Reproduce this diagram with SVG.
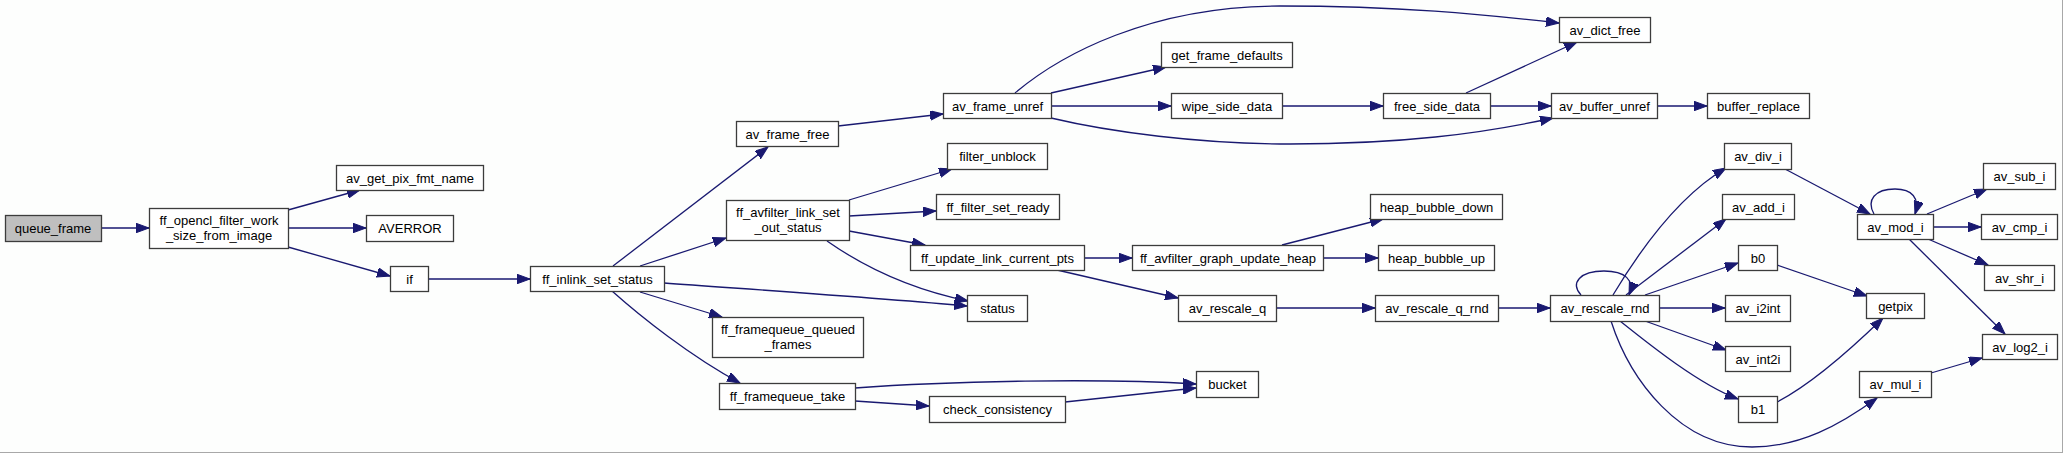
<svg xmlns="http://www.w3.org/2000/svg" width="2063" height="453" viewBox="0 0 2063 453">
<style>
.n rect{fill:#ffffff;stroke:#3c3c3c;stroke-width:1.3}
.n text{font-family:"Liberation Sans",Arial,sans-serif;font-size:13px;fill:#000;text-anchor:middle}
.r rect{fill:#bfbfbf}
#edges path{fill:none;stroke:#191970;stroke-width:1.3;marker-end:url(#ah)}
</style>
<defs>
<marker id="ah" markerUnits="userSpaceOnUse" markerWidth="14" markerHeight="10" refX="13" refY="4.75" orient="auto" viewBox="0 0 14 10">
<path d="M0,0 L13,4.75 L0,9.5 Z" fill="#191970" stroke="#191970" stroke-width="1"/>
</marker>
</defs>
<rect x="0" y="0" width="2063" height="453" fill="#fdfefd"/>
<line x1="2062.5" y1="0" x2="2062.5" y2="453" stroke="#a8a8a8" stroke-width="1"/>
<line x1="0" y1="452.5" x2="2063" y2="452.5" stroke="#a8a8a8" stroke-width="1"/>

<g id="edges">
<path d="M101,228 L149,228"/>
<path d="M288,210 L360,190"/>
<path d="M288,228 L366,228"/>
<path d="M288,247 L390,276"/>
<path d="M428,279 L530,279"/>
<path d="M613,266 L768,147"/>
<path d="M640,266 L726,238"/>
<path d="M664,283 C760,290 880,298 967,306"/>
<path d="M640,292 L722,317"/>
<path d="M612,291 C640,316 690,356 740,383"/>
<path d="M838,126 L943,114"/>
<path d="M1015,93 C1060,55 1150,6 1280,6 C1400,6 1480,14 1559,23"/>
<path d="M1051,93 L1166,67"/>
<path d="M1051,106 L1171,106"/>
<path d="M1051,118 C1110,132 1200,144 1290,144 C1400,144 1480,134 1553,118"/>
<path d="M1282,106 L1383,106"/>
<path d="M1466,93 L1577,42"/>
<path d="M1490,106 L1551,106"/>
<path d="M1657,106 L1707,106"/>
<path d="M849,200 L952,169"/>
<path d="M849,216 L936,211"/>
<path d="M849,231 L925,245"/>
<path d="M827,241 Q890,285 968,301"/>
<path d="M1084,258 L1132,258"/>
<path d="M1057,270 L1178,298"/>
<path d="M1282,245 L1383,219"/>
<path d="M1323,258 L1378,258"/>
<path d="M1276,308 L1375,308"/>
<path d="M1498,308 L1550,308"/>
<path d="M1581,295 C1570,283 1580,271 1604,271 C1625,271 1635,280 1629,295"/>
<path d="M1613,295 C1640,250 1680,195 1726,168"/>
<path d="M1626,295 L1726,219"/>
<path d="M1645,295 L1738,263"/>
<path d="M1659,308 L1725,308"/>
<path d="M1645,321 L1726,350"/>
<path d="M1620,321 C1650,345 1700,385 1738,399"/>
<path d="M1611,321 C1630,380 1680,447 1752,447 C1800,447 1840,425 1877,398"/>
<path d="M1785,169 L1870,214"/>
<path d="M1874,214 C1866,200 1875,189 1895,189 C1912,189 1920,198 1915,214"/>
<path d="M1927,214 L1987,189"/>
<path d="M1933,227 L1981,227"/>
<path d="M1928,239 L1988,265"/>
<path d="M1909,239 L2005,334"/>
<path d="M1777,265 L1867,296"/>
<path d="M1777,402 C1810,385 1850,350 1883,318"/>
<path d="M1931,373 L1982,358"/>
<path d="M855,388 C950,381 1100,378 1196,384"/>
<path d="M855,401 L929,406"/>
<path d="M1065,402 L1196,388"/>
</g>

<g id="queue_frame" class="n r"><rect x="5.5" y="215.5" width="96" height="26"/><text x="53" y="233">queue_frame</text></g>
<g id="ff_opencl_filter_work_size_from_image" class="n"><rect x="149.5" y="208.5" width="139" height="40"/><text x="219" y="224.5">ff_opencl_filter_work</text><text x="219" y="239.5">_size_from_image</text></g>
<g id="av_get_pix_fmt_name" class="n"><rect x="336.5" y="165.5" width="147" height="25"/><text x="410" y="182.5">av_get_pix_fmt_name</text></g>
<g id="AVERROR" class="n"><rect x="366.5" y="215.5" width="87" height="26"/><text x="410" y="233">AVERROR</text></g>
<g id="if" class="n"><rect x="390.5" y="266.5" width="38" height="25"/><text x="409.5" y="283.5">if</text></g>
<g id="ff_inlink_set_status" class="n"><rect x="530.5" y="266.5" width="134" height="25"/><text x="597.5" y="283.5">ff_inlink_set_status</text></g>
<g id="av_frame_free" class="n"><rect x="736.5" y="121.5" width="102" height="25"/><text x="787.5" y="138.5">av_frame_free</text></g>
<g id="av_frame_unref" class="n"><rect x="943.5" y="93.5" width="108" height="25"/><text x="997.5" y="110.5">av_frame_unref</text></g>
<g id="filter_unblock" class="n"><rect x="947.5" y="143.5" width="100" height="26"/><text x="997.5" y="161">filter_unblock</text></g>
<g id="ff_avfilter_link_set_out_status" class="n"><rect x="726.5" y="200.5" width="123" height="40"/><text x="788" y="217">ff_avfilter_link_set</text><text x="788" y="232">_out_status</text></g>
<g id="ff_filter_set_ready" class="n"><rect x="936.5" y="194.5" width="123" height="25"/><text x="998" y="211.5">ff_filter_set_ready</text></g>
<g id="ff_update_link_current_pts" class="n"><rect x="910.5" y="245.5" width="174" height="25"/><text x="997.5" y="262.5">ff_update_link_current_pts</text></g>
<g id="status" class="n"><rect x="967.5" y="295.5" width="60" height="26"/><text x="997.5" y="313">status</text></g>
<g id="ff_framequeue_queued_frames" class="n"><rect x="712.5" y="317.5" width="151" height="40"/><text x="788" y="334">ff_framequeue_queued</text><text x="788" y="349">_frames</text></g>
<g id="ff_framequeue_take" class="n"><rect x="719.5" y="383.5" width="136" height="26"/><text x="787.5" y="401">ff_framequeue_take</text></g>
<g id="check_consistency" class="n"><rect x="929.5" y="396.5" width="136" height="26"/><text x="997.5" y="414">check_consistency</text></g>
<g id="get_frame_defaults" class="n"><rect x="1161.5" y="42.5" width="131" height="25"/><text x="1227" y="59.5">get_frame_defaults</text></g>
<g id="wipe_side_data" class="n"><rect x="1171.5" y="93.5" width="111" height="25"/><text x="1227" y="110.5">wipe_side_data</text></g>
<g id="free_side_data" class="n"><rect x="1383.5" y="93.5" width="107" height="25"/><text x="1437" y="110.5">free_side_data</text></g>
<g id="av_dict_free" class="n"><rect x="1559.5" y="17.5" width="91" height="25"/><text x="1605" y="34.5">av_dict_free</text></g>
<g id="av_buffer_unref" class="n"><rect x="1551.5" y="93.5" width="106" height="25"/><text x="1604.5" y="110.5">av_buffer_unref</text></g>
<g id="buffer_replace" class="n"><rect x="1707.5" y="93.5" width="102" height="25"/><text x="1758.5" y="110.5">buffer_replace</text></g>
<g id="ff_avfilter_graph_update_heap" class="n"><rect x="1132.5" y="245.5" width="191" height="25"/><text x="1228" y="262.5">ff_avfilter_graph_update_heap</text></g>
<g id="heap_bubble_down" class="n"><rect x="1370.5" y="194.5" width="132" height="25"/><text x="1436.5" y="211.5">heap_bubble_down</text></g>
<g id="heap_bubble_up" class="n"><rect x="1378.5" y="245.5" width="116" height="25"/><text x="1436.5" y="262.5">heap_bubble_up</text></g>
<g id="av_rescale_q" class="n"><rect x="1178.5" y="295.5" width="98" height="26"/><text x="1227.5" y="313">av_rescale_q</text></g>
<g id="av_rescale_q_rnd" class="n"><rect x="1375.5" y="295.5" width="123" height="26"/><text x="1437" y="313">av_rescale_q_rnd</text></g>
<g id="bucket" class="n"><rect x="1196.5" y="371.5" width="62" height="26"/><text x="1227.5" y="389">bucket</text></g>
<g id="av_rescale_rnd" class="n"><rect x="1550.5" y="295.5" width="109" height="26"/><text x="1605" y="313">av_rescale_rnd</text></g>
<g id="av_div_i" class="n"><rect x="1724.5" y="143.5" width="67" height="26"/><text x="1758" y="161">av_div_i</text></g>
<g id="av_add_i" class="n"><rect x="1722.5" y="194.5" width="72" height="25"/><text x="1758.5" y="211.5">av_add_i</text></g>
<g id="b0" class="n"><rect x="1738.5" y="245.5" width="39" height="25"/><text x="1758" y="262.5">b0</text></g>
<g id="av_i2int" class="n"><rect x="1725.5" y="295.5" width="65" height="26"/><text x="1758" y="313">av_i2int</text></g>
<g id="av_int2i" class="n"><rect x="1725.5" y="346.5" width="65" height="25"/><text x="1758" y="363.5">av_int2i</text></g>
<g id="b1" class="n"><rect x="1738.5" y="396.5" width="39" height="26"/><text x="1758" y="414">b1</text></g>
<g id="av_mod_i" class="n"><rect x="1857.5" y="214.5" width="76" height="25"/><text x="1895.5" y="231.5">av_mod_i</text></g>
<g id="av_sub_i" class="n"><rect x="1983.5" y="163.5" width="72" height="26"/><text x="2019.5" y="181">av_sub_i</text></g>
<g id="av_cmp_i" class="n"><rect x="1981.5" y="214.5" width="76" height="25"/><text x="2019.5" y="231.5">av_cmp_i</text></g>
<g id="av_shr_i" class="n"><rect x="1984.5" y="265.5" width="70" height="25"/><text x="2019.5" y="282.5">av_shr_i</text></g>
<g id="getpix" class="n"><rect x="1866.5" y="293.5" width="58" height="25"/><text x="1895.5" y="310.5">getpix</text></g>
<g id="av_log2_i" class="n"><rect x="1982.5" y="334.5" width="75" height="25"/><text x="2020" y="351.5">av_log2_i</text></g>
<g id="av_mul_i" class="n"><rect x="1859.5" y="371.5" width="72" height="26"/><text x="1895.5" y="389">av_mul_i</text></g>
</svg>
